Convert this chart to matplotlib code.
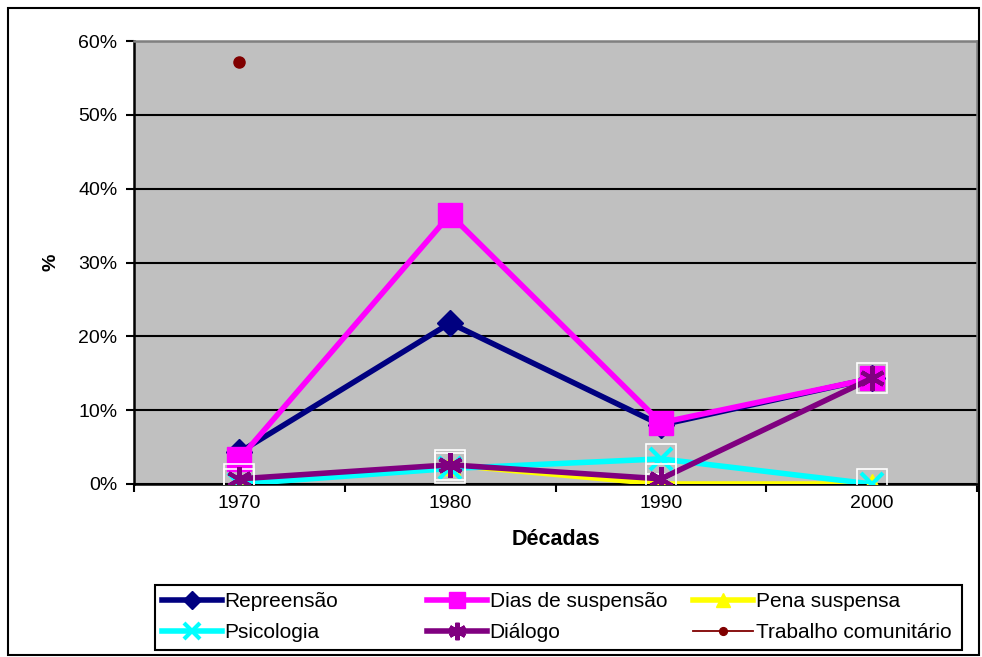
import matplotlib
matplotlib.use("Agg")
import matplotlib.pyplot as plt
import numpy as np
from matplotlib.patches import Rectangle

plt.rcParams['font.family'] = ['Liberation Sans', 'DejaVu Sans']

decades = ['1970', '1980', '1990', '2000']
repreensao = [4.3, 21.8, 8.0, 14.3]
dias_suspensao = [3.4, 36.5, 8.3, 14.3]
pena_suspensa = [0.0, 2.6, 0.0, 0.0]
psicologia = [0.0, 2.1, 3.4, 0.0]
dialogo = [0.7, 2.6, 0.7, 14.3]
trabalho = [57.2, np.nan, np.nan, np.nan]
yticks = [0, 10, 20, 30, 40, 50, 60]

W, H = 982, 657
fig = plt.figure(figsize=(W/100, H/100), dpi=100)
ax = fig.add_axes([134/W, 1-484/H, (977-134)/W, (484-41)/H])
ax.set_facecolor('#C0C0C0')
x = np.arange(len(decades))

lw = 4
h_rep, = ax.plot(x, repreensao, color='#000080', lw=lw, marker='D', ms=13, zorder=3, label='Repreensão')
h_dias, = ax.plot(x, dias_suspensao, color='#FF00FF', lw=lw, marker='s', ms=17, zorder=3, label='Dias de suspensão')
h_pena, = ax.plot(x, pena_suspensa, color='#FFFF00', lw=lw, marker='^', ms=15, zorder=3, label='Pena suspensa')
h_psi, = ax.plot(x, psicologia, color='#00FFFF', lw=lw, marker='x', ms=16, mew=3, zorder=3, label='Psicologia')
ax.plot(x, psicologia, ls='none', marker='s', ms=22, mfc='none', mec='white', mew=1.2, zorder=3)
h_dia, = ax.plot(x, dialogo, color='#800080', lw=lw, marker=(6, 2, 0), ms=18, mew=3, zorder=3, label='Diálogo')
ax.plot(x, dialogo, ls='none', marker='s', ms=22, mfc='none', mec='white', mew=1.2, zorder=3)
h_tra, = ax.plot(x, trabalho, color='#800000', lw=1.3, marker='o', ms=8, zorder=3, label='Trabalho comunitário')

ax.set_ylim(0, 60)
ax.set_xlim(-0.5, len(decades) - 0.5)
ax.set_yticks(yticks)
ax.set_yticklabels([f'{v}%' for v in yticks], fontsize=14)
ax.yaxis.grid(True, color='black', lw=1.5, zorder=1)
ax.set_axisbelow(True)

ax.set_xticks(np.arange(-0.5, len(decades), 1.0))
ax.set_xticklabels([])
ax.set_xticks(x, minor=True)
ax.set_xticklabels(decades, minor=True, fontsize=14)
ax.tick_params(axis='x', which='minor', length=0, pad=8)
ax.tick_params(axis='x', which='major', length=6, width=1.5, direction='out')
ax.tick_params(axis='y', length=6, width=1.5, direction='out', pad=6)

for s in ['left', 'bottom']:
    ax.spines[s].set_color('black')
    ax.spines[s].set_linewidth(1.8)
for s in ['top', 'right']:
    ax.spines[s].set_color('#808080')
    ax.spines[s].set_linewidth(1.8)

ax.set_xlabel('Décadas', fontsize=15.5, fontweight='bold', labelpad=12)
ax.set_ylabel('%', fontsize=14, fontweight='bold')
ax.yaxis.set_label_coords(-74/843, 0.5)

# legend: three columns, row-major order like the original
columns = [([h_rep, h_psi], 162), ([h_dias, h_dia], 427), ([h_pena, h_tra], 693)]
for hs, xpx in columns:
    lg = fig.legend(hs, [h.get_label() for h in hs], loc='upper left',
                    bbox_to_anchor=(xpx/W, 1-592/H), frameon=False, fontsize=15,
                    handlelength=2.9, handletextpad=0.1, borderpad=0, borderaxespad=0,
                    labelspacing=0.6, markerscale=0.7)
fig.patches.append(Rectangle((155/W, 1-650/H), (962-155)/W, (650-585)/H,
                             transform=fig.transFigure, fill=False, ec='black', lw=1.5))

fig.patches.append(Rectangle((8/W, 1-655/H), (979-8)/W, (655-8)/H,
                             transform=fig.transFigure, fill=False, ec='black', lw=1.5))

fig.savefig('out.png', dpi=100)
